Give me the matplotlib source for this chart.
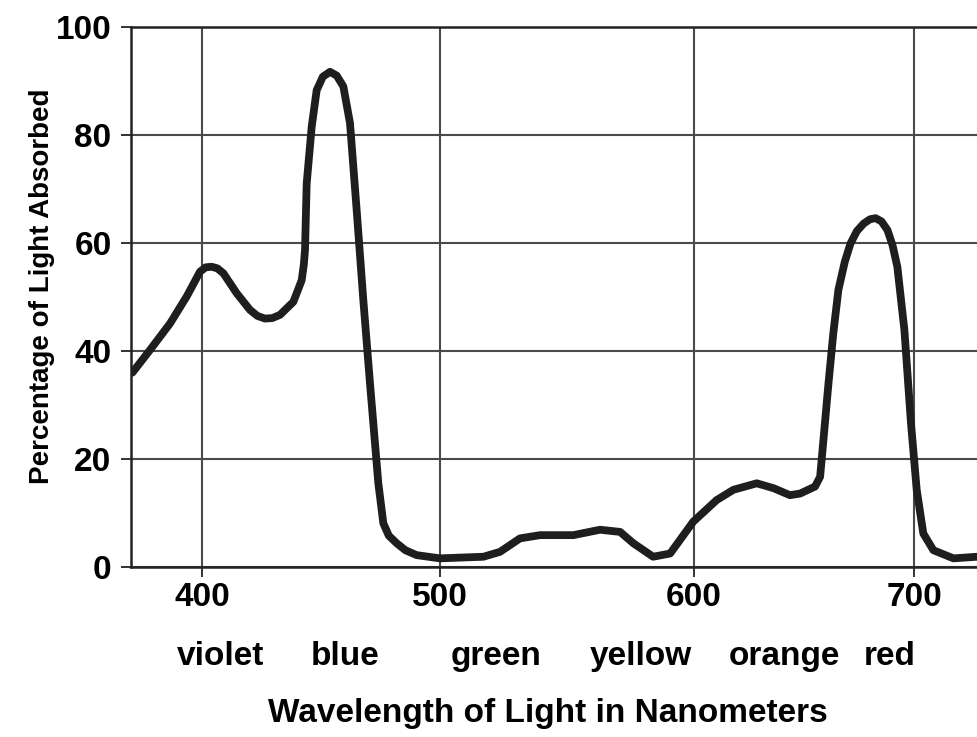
import numpy as np
import matplotlib
matplotlib.use("Agg")
import matplotlib.pyplot as plt

plt.rcParams['font.family'] = ['Liberation Sans', 'DejaVu Sans']
plt.rcParams['font.weight'] = 'bold'

# absorption curve (wavelength nm, % absorbed)
wavelength = [370.8, 378.2, 386.6, 393.6, 399.2, 401.6, 404.1, 406.5, 409.0, 414.6,
              420.2, 423.3, 426.5, 429.6, 432.8, 438.4, 441.9, 442.8, 443.3, 444.0,
              446.1, 448.2, 450.8, 453.8, 456.6, 459.4, 462.2, 465.0, 467.8, 470.6,
              474.1, 476.2, 478.5, 481.8, 485.5, 490.2, 500.0, 517.1, 523.6, 531.5,
              539.4, 552.5, 563.0, 570.9, 576.1, 583.9, 590.6, 599.7, 610.3, 617.9,
              628.5, 636.1, 643.6, 648.2, 655.0, 657.3, 658.8, 661.1, 663.3, 665.6,
              668.5, 671.1, 674.0, 677.1, 680.0, 682.5, 685.2, 687.9, 690.2, 692.4,
              695.6, 698.6, 701.2, 704.2, 708.8, 717.9, 728.6]
absorbed = [36.0, 40.2, 45.1, 50.1, 54.7, 55.5, 55.6, 55.3, 54.4, 50.7,
            47.6, 46.5, 46.0, 46.1, 46.7, 49.1, 53.1, 56.0, 58.7, 71.0,
            81.5, 88.3, 90.8, 91.7, 91.0, 89.0, 82.2, 66.1, 49.4, 34.0,
            15.5, 8.1, 5.8, 4.4, 3.1, 2.2, 1.6, 1.9, 2.8, 5.3,
            5.9, 5.9, 6.9, 6.5, 4.4, 1.9, 2.5, 8.4, 12.4, 14.3,
            15.5, 14.6, 13.3, 13.6, 14.9, 16.7, 23.5, 34.0, 43.3, 51.3,
            56.5, 59.9, 62.2, 63.6, 64.4, 64.6, 64.0, 62.4, 59.6, 55.6,
            43.9, 26.6, 14.3, 6.2, 3.1, 1.6, 1.9]

x_ticks = [400, 500, 600, 700]
y_ticks = [0, 20, 40, 60, 80, 100]
band_names = ['violet', 'blue', 'green', 'yellow', 'orange', 'red']
band_centres = [408, 460, 522, 579, 641, 689]

# the printed x axis is not evenly spaced, so map it piecewise
cal_nm = [300, 400, 500, 600, 700, 800]
cal_pos = [-36, 202, 440, 694, 914, 1134]


def fwd(x):
    return np.interp(x, cal_nm, cal_pos)


def inv(p):
    return np.interp(p, cal_pos, cal_nm)


fig = plt.figure(figsize=(9.77, 7.37), dpi=100)
ax = fig.add_axes([131 / 977, 170 / 737, 846 / 977, 540 / 737])
ax.set_xscale('function', functions=(fwd, inv))

ax.plot(wavelength, absorbed, color='#1e1e1e', lw=5.6,
        solid_joinstyle='round', solid_capstyle='round', zorder=3)

ax.set_xlim(370.2, 728.6)
ax.set_ylim(0, 100)
ax.set_xticks(x_ticks)
ax.set_yticks(y_ticks)
ax.grid(True, color='#4a4a4a', lw=1.5)
ax.tick_params(axis='both', direction='out', length=7, width=1.4,
               color='#333333', labelsize=24)
ax.tick_params(axis='x', pad=4)
ax.tick_params(axis='y', pad=7)
for lab in ax.get_xticklabels() + ax.get_yticklabels():
    lab.set_fontweight('bold')

ax.spines['right'].set_visible(False)
for s in ['left', 'bottom', 'top']:
    ax.spines[s].set_linewidth(1.8)
    ax.spines[s].set_color('#222222')

trans = ax.get_xaxis_transform()
for name, c in zip(band_names, band_centres):
    ax.text(c, -0.1815, name, transform=trans, ha='center', va='baseline',
            fontsize=24, fontweight='bold')

ax.set_xlabel('Wavelength of Light in Nanometers', fontsize=24, fontweight='bold')
ax.xaxis.set_label_coords(0.493, -0.243)
ax.set_ylabel('Percentage of Light Absorbed', fontsize=20, fontweight='bold')
ax.yaxis.set_label_coords(-0.09, 0.52)

fig.savefig('out.png', dpi=100)
